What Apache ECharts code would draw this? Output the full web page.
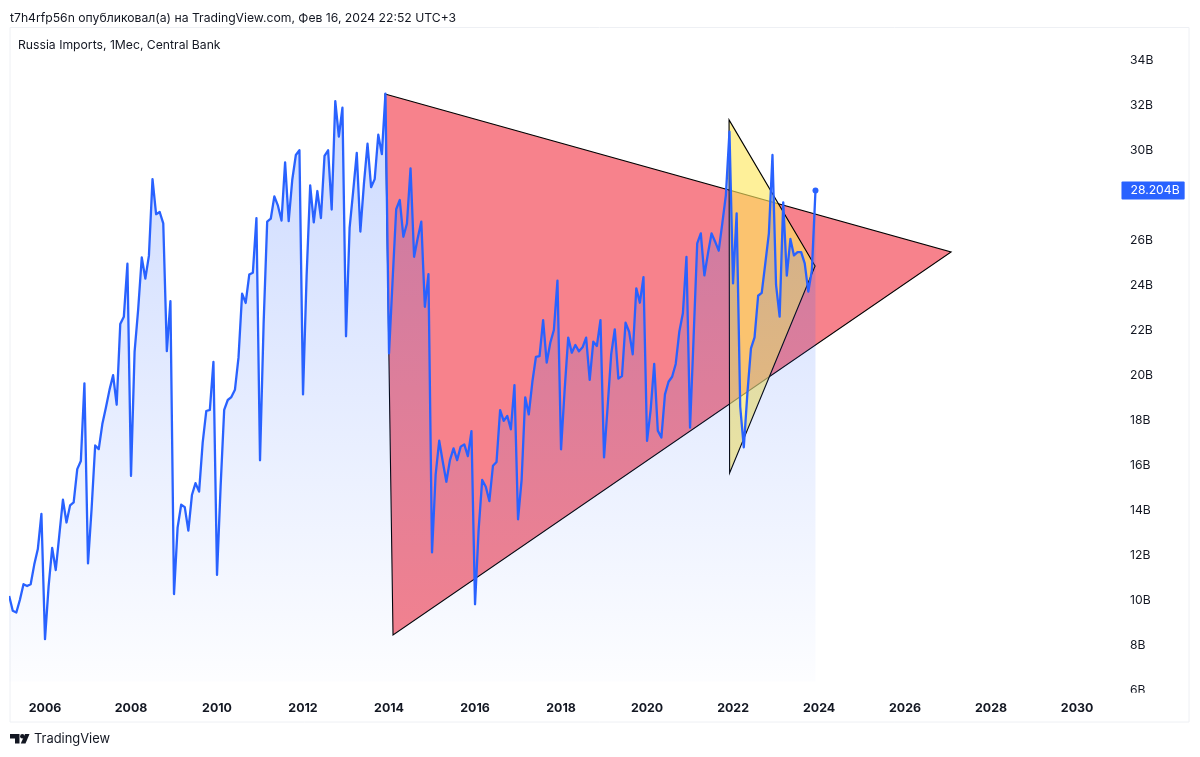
<!DOCTYPE html>
<html>
<head>
<meta charset="utf-8">
<style>html,body{margin:0;padding:0;background:#fff}#c{width:1200px;height:757px}</style>
<script src="https://cdn.jsdelivr.net/npm/echarts@6/dist/echarts.min.js"></script>
</head>
<body>
<div id="c"></div>
<script>
// Monthly imports, billions USD, first value = March 2005
const startYear = 2005, startMonth = 2; // month index from January
const imports = [
 10.2,9.54,9.46,10.03,10.72,10.64,10.72,11.59,12.28,13.84,
 8.28,10.61,12.33,11.35,12.91,14.47,13.46,14.22,14.35,15.83,16.19,19.64,
 11.64,14.06,16.88,16.72,17.83,18.57,19.35,20.0,18.69,22.27,22.6,24.95,
 15.53,21.04,22.93,25.23,24.29,25.31,28.71,27.15,27.25,26.74,21.07,23.29,
 10.28,13.23,14.25,14.14,13.10,14.68,15.21,14.83,17.01,18.41,18.46,20.59,
 11.13,15.04,18.46,18.90,19.03,19.35,20.79,23.62,23.21,24.47,24.55,26.98,
 16.22,22.27,26.82,26.95,27.94,27.53,26.87,29.45,26.84,28.68,29.78,29.99,
 19.15,24.40,28.43,26.79,28.18,26.98,29.74,29.99,27.36,32.17,30.60,31.88,
 21.73,26.54,28.18,29.87,26.38,28.51,30.28,28.35,28.71,30.68,29.82,32.50,
 20.97,24.23,27.37,27.78,26.15,26.74,29.19,25.26,26.08,26.82,23.04,24.49,
 12.13,15.57,17.09,16.16,15.27,16.23,16.75,16.23,16.83,16.93,16.41,17.52,
 9.83,13.13,15.35,15.05,14.41,15.98,16.15,18.45,17.97,18.19,17.60,19.56,
 13.60,15.35,19.02,18.26,19.71,20.82,20.85,22.45,20.56,21.44,22.01,24.20,
 16.71,19.34,21.67,21.0,21.34,21.06,21.24,21.67,19.79,21.49,21.30,22.45,
 16.35,18.60,20.94,22.04,19.85,19.96,22.33,21.93,20.93,23.86,23.22,24.36,
 17.08,18.45,20.50,17.54,17.23,19.15,19.71,19.93,20.50,21.93,22.75,25.26,
 17.67,21.71,25.86,26.30,24.43,25.41,26.30,25.93,25.53,26.74,28.0,30.82,
 24.08,27.19,18.60,16.80,19.20,21.19,21.68,23.53,23.66,24.97,26.30,29.78,
 24.01,22.60,27.68,24.42,26.05,25.32,25.47,25.47,24.97,23.71,24.67,28.204
];
const yearTicks = [2006,2008,2010,2012,2014,2016,2018,2020,2022,2024,2026,2028,2030];
const valueTicks = [6,8,10,12,14,16,18,20,22,24,26,28,30,32,34];
// Drawn triangles: [decimal year, value in billions]
const redTriangle = [[2013.907,32.49],[2027.07,25.47],[2014.093,8.47]];
const yellowTriangle = [[2021.907,31.34],[2023.907,24.85],[2021.92,15.66]];
const lastLabel = '28.204B';

const series = imports.map((v,i)=>[startYear+(startMonth+i)/12, v]);
const last = series[series.length-1];
const FONT = 'Inter, "Noto Sans", sans-serif';
const DARK = '#131722';
const TEXT_SIZE = 12.2;

function triangleSeries(points, fill, name, z){
  return {
    type:'custom', name, coordinateSystem:'cartesian2d', z, silent:true,
    data: points,
    encode:{x:0,y:1},
    renderItem(params, api){
      if(params.dataIndex!==0) return null;
      return {type:'polygon', shape:{points:points.map(p=>api.coord(p))},
        style:{fill, stroke:'#000', lineWidth:1.1}};
    }
  };
}

const chart = echarts.init(document.getElementById('c'), null, {renderer:'canvas'});
chart.setOption({
  animation:false,
  backgroundColor:'#ffffff',
  title:[
    {text:'t7h4rfp56n опубликовал(а) на TradingView.com, Фев 16, 2024 22:52 UTC+3', left:10, top:12, padding:0,
     textStyle:{fontFamily:FONT,fontSize:TEXT_SIZE,fontWeight:'normal',color:DARK}},
    {text:'Russia Imports, 1Мес, Central Bank', left:18, top:39, padding:0,
     textStyle:{fontFamily:FONT,fontSize:TEXT_SIZE,fontWeight:'normal',color:DARK}},
    {text:'TradingView', left:34, top:733, padding:0,
     textStyle:{fontFamily:FONT,fontSize:12.9,fontWeight:'normal',color:DARK}}
  ],
  grid:{left:10.3, right:104, top:28, bottom:60, containLabel:false},
  xAxis:{
    type:'value', min:2005.193, max:2030.44, splitLine:{show:false},
    axisLine:{show:false}, axisTick:{show:false},
    axisLabel:{customValues:yearTicks, formatter:v=>String(Math.round(v)), margin:5,
      fontFamily:FONT,fontSize:12.4,fontWeight:'bold',color:DARK}
  },
  yAxis:{
    type:'value', position:'right', min:5.71, max:35.42, splitLine:{show:false},
    axisLine:{show:false}, axisTick:{show:false},
    axisLabel:{customValues:valueTicks, formatter:v=>Math.round(v)+'B', margin:34, padding:[2,0,0,0],
      fontFamily:FONT,fontSize:TEXT_SIZE,color:DARK}
  },
  graphic:[
    {type:'rect', z:-1, silent:true, shape:{x:10,y:27.5,width:1179,height:694.5},
     style:{fill:'none',stroke:'#eef0f4',lineWidth:1}},
    {type:'rect', z:1000, zlevel:1, silent:true, shape:{x:1100,y:692.8,width:80,height:8},
     style:{fill:'#fff'}},
    {type:'group', z:100, silent:true, children:[
      {type:'polygon', shape:{points:[[10,734],[19.5,734],[19.5,743.5],[15,743.5],[15,738.5],[10,738.5]]}, style:{fill:DARK}},
      {type:'circle', shape:{cx:22.3,cy:736.2,r:2.2}, style:{fill:DARK}},
      {type:'polygon', shape:{points:[[25,734],[29.5,734],[25.5,743.5],[20.8,743.5]]}, style:{fill:DARK}}
    ]}
  ],
  series:[
    triangleSeries(redTriangle,'rgba(242,54,69,0.62)','Red triangle',1),
    triangleSeries(yellowTriangle,'rgba(253,231,96,0.64)','Yellow triangle',2),
    {
      type:'line', name:'Russia Imports', data:series, z:3, symbol:'none', silent:true,
      lineStyle:{color:'#2962ff',width:2.3,join:'round'},
      areaStyle:{origin:6.4, opacity:1, color:{type:'linear',x:0,y:0,x2:0,y2:1,colorStops:[
        {offset:0,color:'rgba(41,98,255,0.24)'},{offset:1,color:'rgba(41,98,255,0.012)'}]}}
    },
    {
      type:'scatter', name:'Last', data:[last], z:4, symbolSize:6, silent:true,
      itemStyle:{color:'#2962ff',opacity:1},
      label:{show:true, position:'right', distance:303, formatter:lastLabel, opacity:1,
        backgroundColor:'#2962ff', color:'#fff', fontFamily:FONT, fontSize:TEXT_SIZE,
        padding:[3,5,3,9], borderRadius:1}
    }
  ]
});
</script>
</body>
</html>
